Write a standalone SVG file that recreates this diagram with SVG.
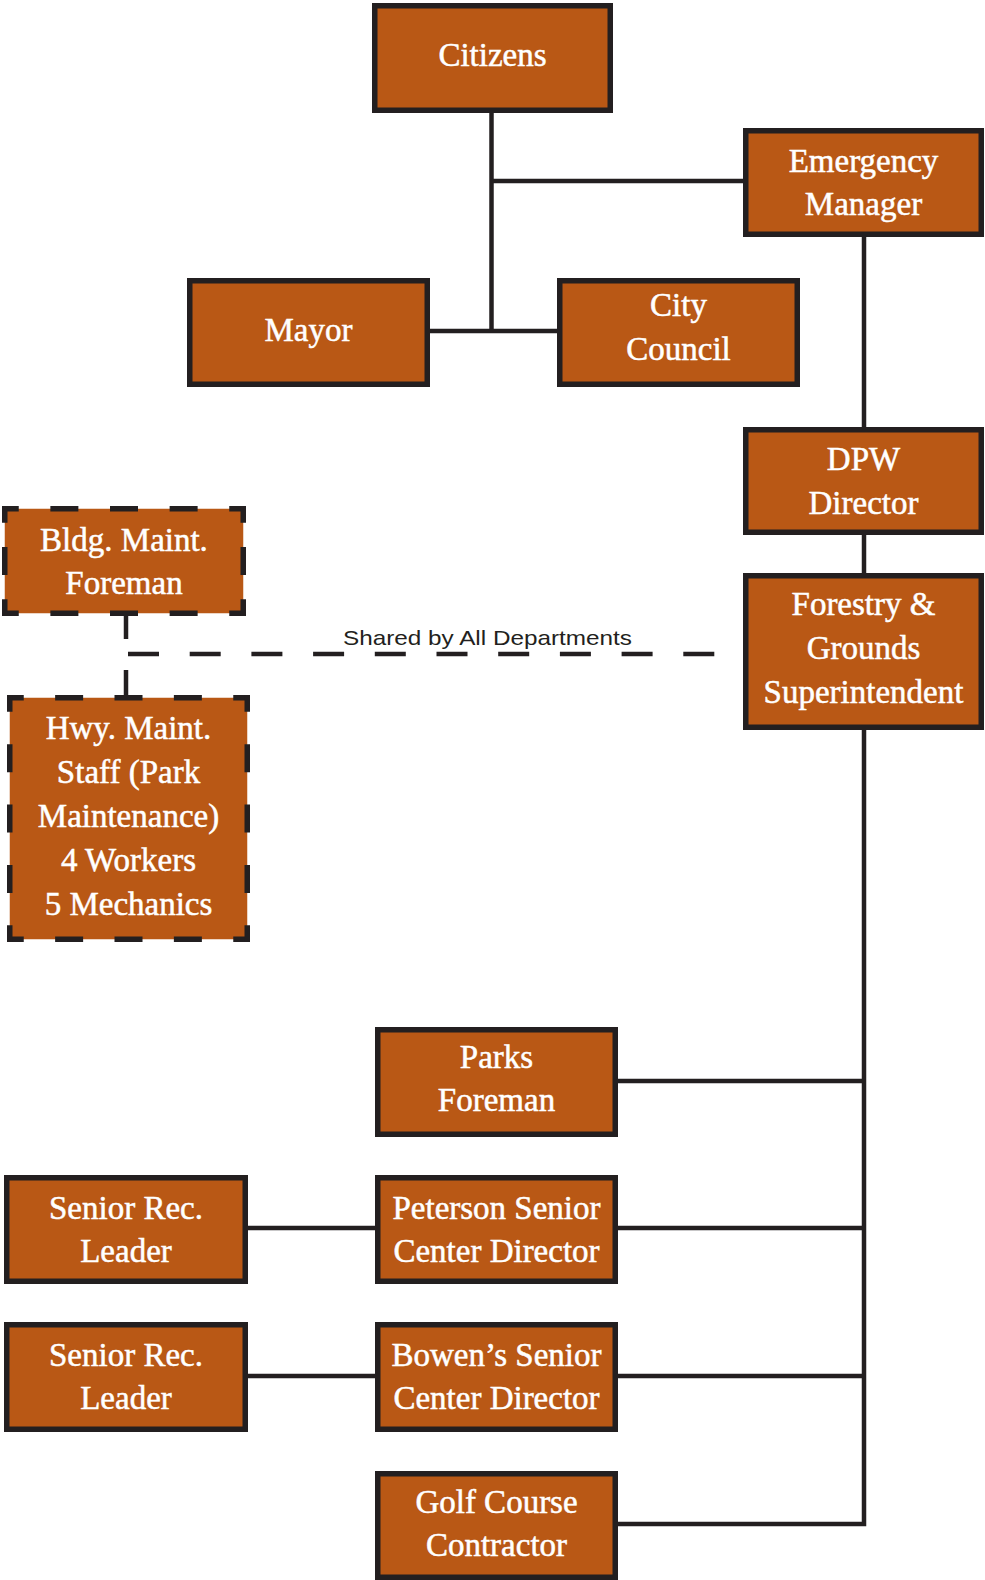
<svg xmlns="http://www.w3.org/2000/svg" width="985" height="1580" viewBox="0 0 985 1580">
<style>
.box{fill:#B95815;stroke:#231F20;stroke-width:5.5}
.dbox{fill:#B95815;stroke:none}
.dedge{stroke:#231F20;stroke-width:5.5;stroke-linecap:square;fill:none}
.t{font-family:"Liberation Serif","Times New Roman",serif;font-size:33px;fill:#FFFFFF;stroke:#FFFFFF;stroke-width:0.5;text-anchor:middle}
.c{stroke:#231F20;stroke-width:4.5;fill:none;stroke-linejoin:miter}
.dash{stroke:#231F20;stroke-width:4.5;fill:none;stroke-dasharray:31 30.7}
.lbl{font-family:"Liberation Sans",Arial,sans-serif;font-size:21px;fill:#231F20}
</style>
<rect width="985" height="1580" fill="#FFFFFF"/>
<g id="connectors">
<path class="c" d="M491.5 113 V331"/>
<path class="c" d="M491.5 181 H745"/>
<path class="c" d="M430 331 H558"/>
<path class="c" d="M864 237 V429"/>
<path class="c" d="M864 533 V575"/>
<path class="c" d="M618 1524 H864 V728"/>
<path class="c" d="M618 1081 H864"/>
<path class="c" d="M618 1228 H864"/>
<path class="c" d="M618 1376 H864"/>
<path class="c" d="M248 1228 H377"/>
<path class="c" d="M248 1376 H377"/>
<path class="c" d="M126 614 V639"/>
<path class="c" d="M126 670 V697"/>
<path class="dash" d="M128 654 H715"/>
<text class="lbl" x="343" y="645" textLength="289" lengthAdjust="spacingAndGlyphs">Shared by All Departments</text>
</g>
<g id="citizens">
<rect class="box" x="374.75" y="5.75" width="235.5" height="104.5"/>
<text class="t" x="492.5" y="66">Citizens</text>
</g>
<g id="emergency-manager">
<rect class="box" x="745.75" y="130.75" width="235.5" height="103.5"/>
<text class="t" x="863.5" y="171.5">Emergency</text>
<text class="t" x="863.5" y="215">Manager</text>
</g>
<g id="mayor">
<rect class="box" x="189.75" y="280.75" width="237.5" height="103.5"/>
<text class="t" x="308.5" y="340.5">Mayor</text>
</g>
<g id="city-council">
<rect class="box" x="559.75" y="280.75" width="237.5" height="103.5"/>
<text class="t" x="678.5" y="315.5">City</text>
<text class="t" x="678.5" y="359.5">Council</text>
</g>
<g id="dpw-director">
<rect class="box" x="745.75" y="429.75" width="235.5" height="102.5"/>
<text class="t" x="863.5" y="470">DPW</text>
<text class="t" x="863.5" y="514">Director</text>
</g>
<g id="forestry">
<rect class="box" x="745.75" y="575.75" width="235.5" height="151.5"/>
<text class="t" x="863.5" y="615">Forestry &amp;</text>
<text class="t" x="863.5" y="659">Grounds</text>
<text class="t" x="863.5" y="703">Superintendent</text>
</g>
<g id="bldg-maint">
<rect class="dbox" x="4.75" y="508.75" width="238.5" height="104.5"/>
<line class="dedge" x1="4.75" y1="508.75" x2="243.25" y2="508.75" stroke-dasharray="22.5 37.125" stroke-dashoffset="11.25"/>
<line class="dedge" x1="4.75" y1="613.25" x2="243.25" y2="613.25" stroke-dasharray="22.5 37.125" stroke-dashoffset="11.25"/>
<line class="dedge" x1="4.75" y1="508.75" x2="4.75" y2="613.25" stroke-dasharray="22.5 29.75" stroke-dashoffset="11.25"/>
<line class="dedge" x1="243.25" y1="508.75" x2="243.25" y2="613.25" stroke-dasharray="22.5 29.75" stroke-dashoffset="11.25"/>
<text class="t" x="124" y="551">Bldg. Maint.</text>
<text class="t" x="124" y="594">Foreman</text>
</g>
<g id="hwy-maint">
<rect class="dbox" x="9.75" y="697.75" width="237.5" height="241.5"/>
<line class="dedge" x1="9.75" y1="697.75" x2="247.25" y2="697.75" stroke-dasharray="22.5 36.875" stroke-dashoffset="11.25"/>
<line class="dedge" x1="9.75" y1="939.25" x2="247.25" y2="939.25" stroke-dasharray="22.5 36.875" stroke-dashoffset="11.25"/>
<line class="dedge" x1="9.75" y1="697.75" x2="9.75" y2="939.25" stroke-dasharray="22.5 37.875" stroke-dashoffset="11.25"/>
<line class="dedge" x1="247.25" y1="697.75" x2="247.25" y2="939.25" stroke-dasharray="22.5 37.875" stroke-dashoffset="11.25"/>
<text class="t" x="128.5" y="739">Hwy. Maint.</text>
<text class="t" x="128.5" y="783">Staff (Park</text>
<text class="t" x="128.5" y="827">Maintenance)</text>
<text class="t" x="128.5" y="871">4 Workers</text>
<text class="t" x="128.5" y="915">5 Mechanics</text>
</g>
<g id="parks-foreman">
<rect class="box" x="377.75" y="1029.75" width="237.5" height="104.5"/>
<text class="t" x="496.5" y="1067.5">Parks</text>
<text class="t" x="496.5" y="1111">Foreman</text>
</g>
<g id="peterson">
<rect class="box" x="377.75" y="1177.75" width="237.5" height="103.5"/>
<text class="t" x="496.5" y="1218.5">Peterson Senior</text>
<text class="t" x="496.5" y="1262">Center Director</text>
</g>
<g id="senior-rec-1">
<rect class="box" x="6.75" y="1177.75" width="238.5" height="103.5"/>
<text class="t" x="126" y="1218.5">Senior Rec.</text>
<text class="t" x="126" y="1262">Leader</text>
</g>
<g id="bowen">
<rect class="box" x="377.75" y="1324.75" width="237.5" height="104.5"/>
<text class="t" x="496.5" y="1365.5">Bowen’s Senior</text>
<text class="t" x="496.5" y="1409">Center Director</text>
</g>
<g id="senior-rec-2">
<rect class="box" x="6.75" y="1324.75" width="238.5" height="104.5"/>
<text class="t" x="126" y="1365.5">Senior Rec.</text>
<text class="t" x="126" y="1409">Leader</text>
</g>
<g id="golf">
<rect class="box" x="377.75" y="1473.75" width="237.5" height="103.5"/>
<text class="t" x="496.5" y="1512.5">Golf Course</text>
<text class="t" x="496.5" y="1556">Contractor</text>
</g>
</svg>
